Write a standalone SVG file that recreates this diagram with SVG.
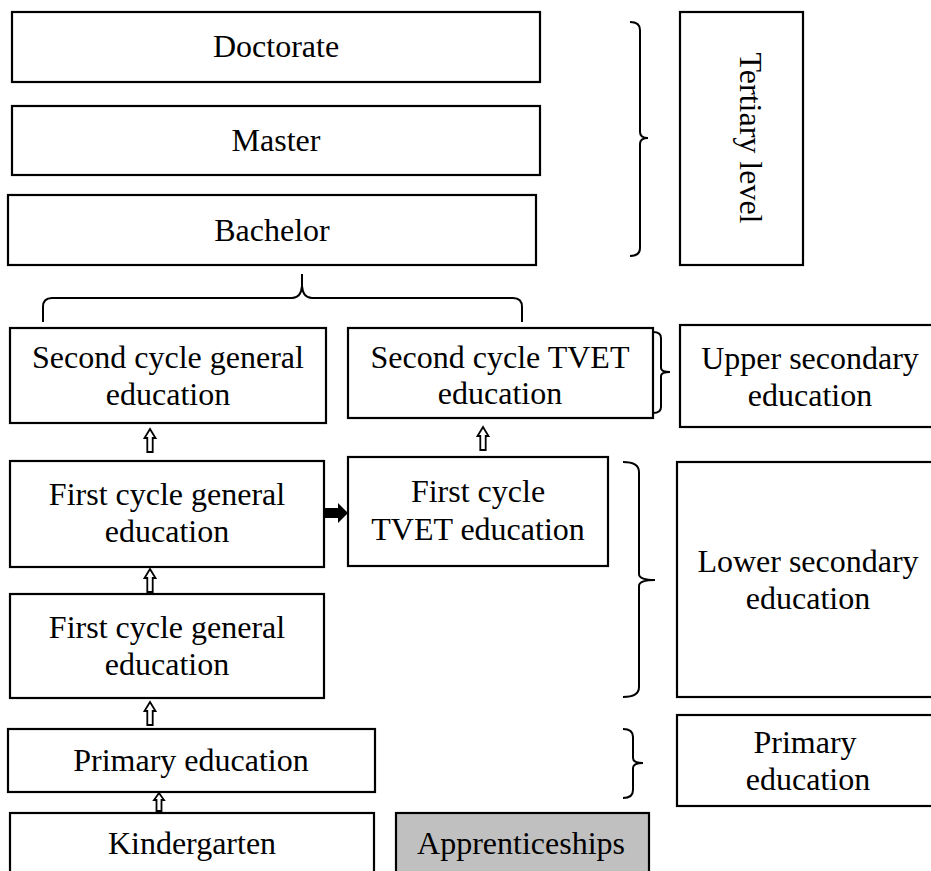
<svg xmlns="http://www.w3.org/2000/svg" width="931" height="871" viewBox="0 0 931 871">
  <style>
    .box { fill: #ffffff; stroke: #000000; stroke-width: 2.2; }
    .grey { fill: #c0c0c0; stroke: #000000; stroke-width: 2.2; }
    .lbl { font-family: "Liberation Serif", "Times New Roman", serif; font-size: 32px; fill: #000000; text-anchor: middle; }
    .brk { fill: none; stroke: #000000; stroke-width: 2; }
    .up { fill: #ffffff; stroke: #000000; stroke-width: 1.8; stroke-linejoin: miter; }
    .solid { fill: #000000; stroke: none; }
  </style>
  <defs>
    <!-- hollow upward double-line arrow, tip at origin -->
    <path id="uparrow" d="M0,0 L5.5,9 L2.7,9 L2.7,23 L-2.7,23 L-2.7,9 L-5.5,9 Z"/>
  </defs>
  <rect width="931" height="871" fill="#ffffff"/>

  <!-- tertiary level -->
  <g id="doctorate">
    <rect class="box" x="12" y="12" width="528" height="70"/>
    <text class="lbl" x="276" y="57">Doctorate</text>
  </g>
  <g id="master">
    <rect class="box" x="12" y="106" width="528" height="69"/>
    <text class="lbl" x="276" y="151">Master</text>
  </g>
  <g id="bachelor">
    <rect class="box" x="8" y="195" width="528" height="70"/>
    <text class="lbl" x="272" y="241">Bachelor</text>
  </g>
  <g id="tertiary-level">
    <rect class="box" x="680" y="12" width="123" height="253"/>
    <text class="lbl" transform="translate(740,138) rotate(90)" x="0" y="0">Tertiary level</text>
  </g>

  <!-- upper secondary -->
  <g id="second-cycle-general">
    <rect class="box" x="10" y="328" width="316" height="95"/>
    <text class="lbl" x="168" y="368">Second cycle general</text>
    <text class="lbl" x="168" y="405">education</text>
  </g>
  <g id="second-cycle-tvet">
    <rect class="box" x="348" y="328" width="305" height="90"/>
    <text class="lbl" x="500" y="368">Second cycle TVET</text>
    <text class="lbl" x="500" y="404">education</text>
  </g>
  <g id="upper-secondary">
    <rect class="box" x="680" y="325" width="262" height="102"/>
    <text class="lbl" x="810" y="369">Upper secondary</text>
    <text class="lbl" x="810" y="406">education</text>
  </g>

  <!-- lower secondary -->
  <g id="first-cycle-general-a">
    <rect class="box" x="10" y="461" width="314" height="106"/>
    <text class="lbl" x="167" y="505">First cycle general</text>
    <text class="lbl" x="167" y="542">education</text>
  </g>
  <g id="first-cycle-tvet">
    <rect class="box" x="348" y="457" width="260" height="109"/>
    <text class="lbl" x="478" y="502">First cycle</text>
    <text class="lbl" x="478" y="540">TVET education</text>
  </g>
  <g id="first-cycle-general-b">
    <rect class="box" x="10" y="594" width="314" height="104"/>
    <text class="lbl" x="167" y="638">First cycle general</text>
    <text class="lbl" x="167" y="675">education</text>
  </g>
  <g id="lower-secondary">
    <rect class="box" x="677" y="462" width="265" height="235"/>
    <text class="lbl" x="808" y="572">Lower secondary</text>
    <text class="lbl" x="808" y="609">education</text>
  </g>

  <!-- primary and below -->
  <g id="primary-education">
    <rect class="box" x="8" y="729" width="367" height="63"/>
    <text class="lbl" x="191" y="771">Primary education</text>
  </g>
  <g id="primary-level">
    <rect class="box" x="677" y="715" width="265" height="91"/>
    <text class="lbl" x="805" y="753">Primary</text>
    <text class="lbl" x="808" y="790">education</text>
  </g>
  <g id="kindergarten">
    <rect class="box" x="10" y="813" width="364" height="70"/>
    <text class="lbl" x="192" y="854">Kindergarten</text>
  </g>
  <g id="apprenticeships">
    <rect class="grey" x="396" y="813" width="253" height="70"/>
    <text class="lbl" x="521" y="854">Apprenticeships</text>
  </g>

  <g id="connectors">
    <!-- brace joining both second-cycle streams to the bachelor -->
    <path class="brk" d="M43,322 L43,307 Q43,298 52,298 L292,298 Q301,298 302,286 L302,274 M302,286 Q303,298 312,298 L513,298 Q522,298 522,307 L522,322"/>
    <!-- level brackets -->
    <path class="brk" d="M630,22 Q640,22 640,30 L640,132 Q640,138 648,138 Q640,138 640,144 L640,248 Q640,256 630,256"/>
    <path class="brk" d="M653,332 Q661,332 661,338 L661,368 Q661,372 670,372 Q661,372 661,376 L661,407 Q661,413 653,413"/>
    <path class="brk" d="M623,462 Q639,462 639,472 L639,574 Q639,580 655,580 Q639,580 639,586 L639,687 Q639,697 623,697"/>
    <path class="brk" d="M623,729 Q633,729 633,737 L633,758 Q633,763 643,763 Q633,763 633,768 L633,790 Q633,798 623,798"/>
    <!-- progression arrows -->
    <use href="#uparrow" class="up" x="150" y="429"/>
    <use href="#uparrow" class="up" x="483" y="427"/>
    <use href="#uparrow" class="up" x="150" y="569"/>
    <use href="#uparrow" class="up" x="150" y="702"/>
    <path class="up" d="M159,793 L164,800 L161.5,800 L161.5,811 L156.5,811 L156.5,800 L154,800 Z"/>
    <!-- general to TVET transfer -->
    <path class="solid" d="M325,508 L338,508 L338,503 L348,513 L338,523 L338,518 L325,518 Z"/>
  </g>
</svg>
